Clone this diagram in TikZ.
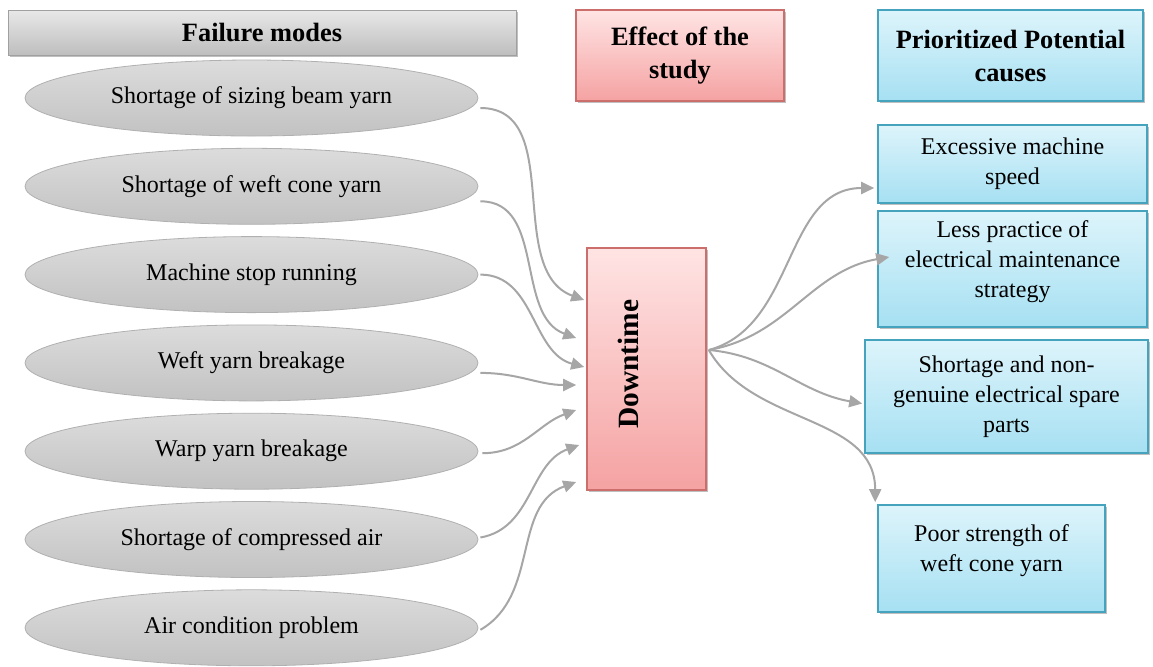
\documentclass[tikz,border=0pt]{standalone}
\usepackage{fontspec}
\setmainfont{Liberation Serif}
\usetikzlibrary{shapes.geometric,arrows.meta,calc,shadows}
\definecolor{graytop}{HTML}{E8E8E8}
\definecolor{graybot}{HTML}{BEBEBE}
\definecolor{grayline}{HTML}{A0A0A0}
\definecolor{elltop}{HTML}{DCDCDC}
\definecolor{ellbot}{HTML}{C2C2C2}
\definecolor{ellline}{HTML}{B0B0B0}
\definecolor{pinktop}{HTML}{FFE4E4}
\definecolor{pinkbot}{HTML}{F5A2A2}
\definecolor{pinkline}{HTML}{CC6E6C}
\definecolor{bluetop}{HTML}{DDF4FB}
\definecolor{bluebot}{HTML}{A6E0F2}
\definecolor{blueline}{HTML}{45A3BE}
\definecolor{arrowgray}{HTML}{A6A6A6}
\begin{document}
\begin{tikzpicture}[x=0.5pt,y=-0.5pt,
  txt/.style={font=\fontsize{12}{15}\selectfont, align=center},
  hdr/.style={font=\bfseries\fontsize{13.2}{16.5}\selectfont, align=center},
  graybar/.style={rectangle, draw=grayline, top color=graytop, bottom color=graybot, inner sep=0pt,
    drop shadow={shadow xshift=0.8pt,shadow yshift=-0.8pt,fill=black,opacity=0.25}},
  mode/.style={ellipse, draw=ellline, top color=elltop, bottom color=ellbot,
    minimum width=226.5pt, minimum height=38pt, inner sep=0pt, txt},
  pinkbox/.style={rectangle, draw=pinkline, line width=0.8pt, top color=pinktop, bottom color=pinkbot,
    inner sep=0pt, drop shadow={shadow xshift=0.8pt,shadow yshift=-0.8pt,fill=black,opacity=0.25}},
  bluebox/.style={rectangle, draw=blueline, line width=0.8pt, top color=bluetop, bottom color=bluebot,
    inner sep=0pt, drop shadow={shadow xshift=0.8pt,shadow yshift=-0.8pt,fill=black,opacity=0.25}},
  conn/.style={draw=arrowgray, line width=1pt, -{Triangle[length=6.5pt,width=6pt]}}
]
\useasboundingbox (0,0) rectangle (1153,666);

% headers
\node[graybar, minimum width=254pt, minimum height=22.5pt, hdr] (hf) at (262,32.5) {Failure modes};
\node[pinkbox, minimum width=104pt, minimum height=45.5pt, hdr] (he) at (680,55.5) {Effect of the\\study};
\node[bluebox, minimum width=132.5pt, minimum height=45.5pt, hdr] (hp) at (1010.5,55.5) {Prioritized Potential\\causes};

% failure modes
\node[mode] (e1) at (251.5,98) {Shortage of sizing beam yarn};
\node[mode] (e2) at (251.5,186.3) {Shortage of weft cone yarn};
\node[mode] (e3) at (251.5,274.6) {Machine stop running};
\node[mode] (e4) at (251.5,362.9) {Weft yarn breakage};
\node[mode] (e5) at (251.5,451.2) {Warp yarn breakage};
\node[mode] (e6) at (251.5,539.5) {Shortage of compressed air};
\node[mode] (e7) at (251.5,627.8) {Air condition problem};

% downtime
\node[pinkbox, minimum width=59.5pt, minimum height=121pt] (dt) at (646.5,369) {};
\node[rotate=90, font=\bfseries\fontsize{14.7}{16}\selectfont] (dtt) at ($(dt.center)+(-18,-5)$) {Downtime};

% causes
\node[bluebox, minimum width=134.5pt, minimum height=39pt, txt] (b1) at (1012.5,164) {Excessive machine\\speed};
\node[bluebox, minimum width=134.5pt, minimum height=58pt] (b2) at (1012.5,269) {};
\node[txt] (b2t) at ($(b2.center)+(0,-7)$) {Less practice of\\electrical maintenance\\strategy};
\node[bluebox, minimum width=141.5pt, minimum height=56.5pt, txt] (b3) at (1006.5,396.5) {Shortage and non-\\genuine electrical spare\\parts};
\node[bluebox, minimum width=113.5pt, minimum height=53.5pt] (b4) at (991.5,558.5) {};
\node[txt] (b4t) at ($(b4.center)+(0,-8)$) {Poor strength of\\weft cone yarn};

% input connectors
\draw[conn] ($(e1.east)+(2,10)$) to[out=0,in=160] ($(dt.west)+(-2,-69)$);
\draw[conn] ($(e2.east)+(2,15)$) to[out=0,in=160] ($(dt.west)+(-10,-31)$);
\draw[conn] ($(e3.east)+(2,0)$) to[out=0,in=165] ($(dt.west)+(-2,-2)$);
\draw[conn] ($(e4.east)+(2,10)$) to[out=0,in=180] ($(dt.west)+(-10,16)$);
\draw[conn] ($(e5.east)+(4,2)$) to[out=0,in=200] ($(dt.west)+(-10,41)$);
\draw[conn] ($(e6.east)+(2,-2)$) to[out=10,in=200] ($(dt.west)+(-7,76)$);
\draw[conn] ($(e7.east)+(2,2)$) to[out=30,in=200] ($(dt.west)+(-10,113)$);

% output connectors
\coordinate (src) at ($(dt.east)+(2,-19)$);
\draw[conn] (src) to[out=15,in=180] ($(b1.west)+(-3,24)$);
\draw[conn] (src) to[out=10,in=190] ($(b2.west)+(12,-12)$);
\draw[conn] (src) to[out=-5,in=170] ($(b3.west)+(-2,7)$);
\draw[conn] (src) to[out=-60,in=90] ($(b4.north west)+(-2,-2)$);
\end{tikzpicture}
\end{document}
